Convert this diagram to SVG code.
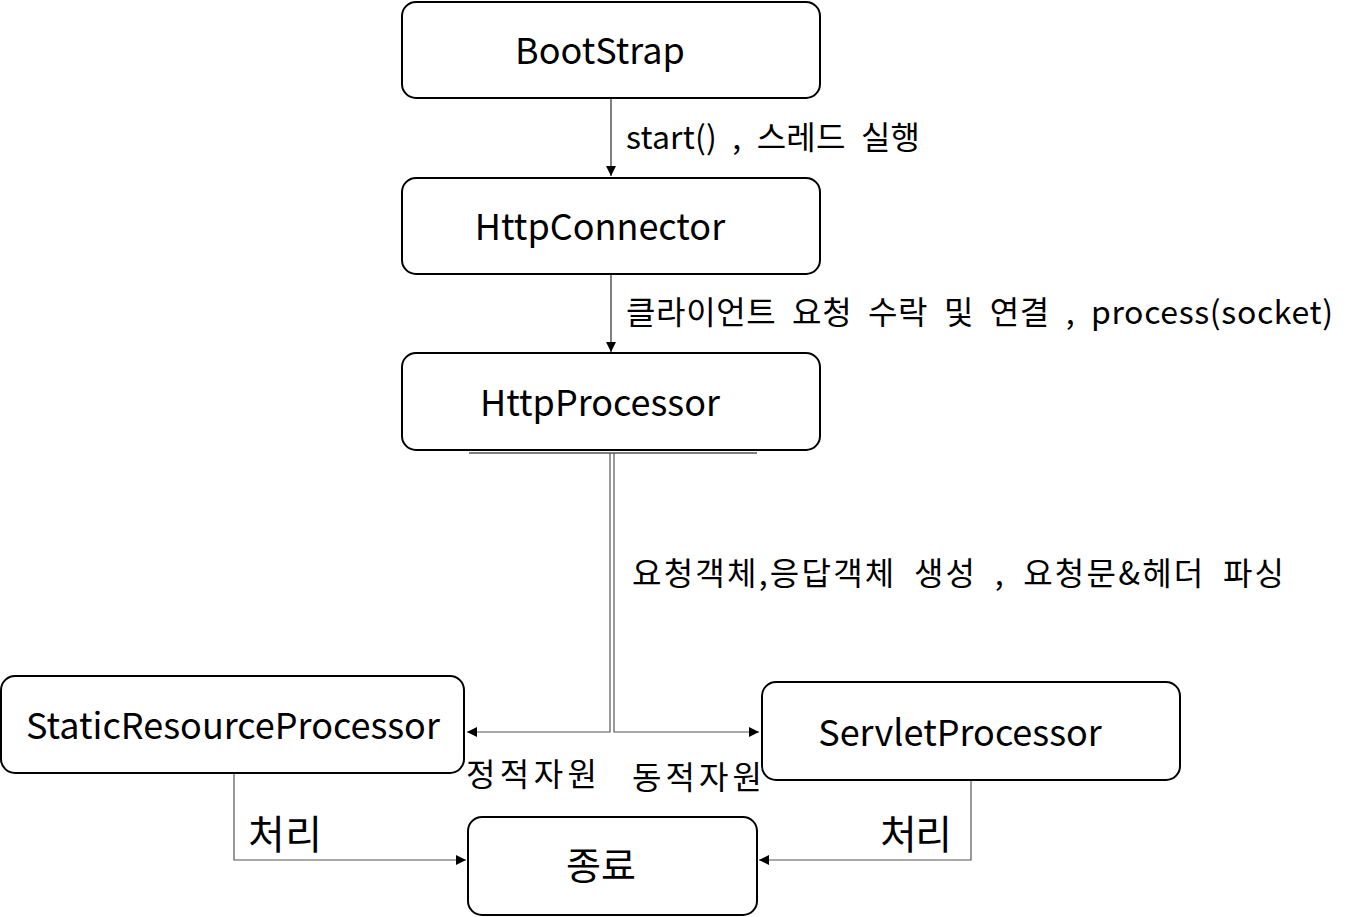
<svg xmlns="http://www.w3.org/2000/svg" width="1356" height="917" viewBox="0 0 1356 917">
<defs>
<style>
.box{fill:#fff;stroke:#000;stroke-width:2}
.t{font-family:"Noto Sans CJK KR","Noto Sans",sans-serif;font-size:36px;fill:#000;text-anchor:middle}
.l{font-family:"Noto Sans CJK KR","Noto Sans",sans-serif;font-size:32px;fill:#000;word-spacing:8px}
.k{font-size:40px}
.c{fill:none;stroke:#000;stroke-width:1}
.g{fill:none;stroke:#555;stroke-width:1.2}
</style>
<marker id="a" viewBox="0 0 10 10" refX="10" refY="5" markerWidth="10" markerHeight="10" markerUnits="userSpaceOnUse" orient="auto"><path d="M0,0L10,5L0,10z" fill="#000"/></marker>
</defs>
<rect width="1356" height="917" fill="#fff"/>
<g id="connectors">
<line class="c" x1="611" y1="98" x2="611" y2="176" marker-end="url(#a)"/>
<line class="c" x1="611" y1="274" x2="611" y2="352" marker-end="url(#a)"/>
<line class="c" x1="469" y1="453" x2="757" y2="453"/>
<path class="g" d="M610,453V732H467" marker-end="url(#a)"/>
<path class="g" d="M614,453V732H759" marker-end="url(#a)"/>
<path class="g" d="M234,773V860H466" marker-end="url(#a)"/>
<path class="g" d="M971,780V860H759" marker-end="url(#a)"/>
</g>
<g id="bootstrap"><rect class="box" x="402" y="2" width="418" height="96" rx="14"/><text class="t" x="600" y="64">BootStrap</text></g>
<g id="httpconnector"><rect class="box" x="402" y="178" width="418" height="96" rx="14"/><text class="t" x="600" y="240">HttpConnector</text></g>
<g id="httpprocessor"><rect class="box" x="402" y="353" width="418" height="97" rx="14"/><text class="t" x="600" y="416">HttpProcessor</text></g>
<g id="static"><rect class="box" x="1" y="676" width="463" height="97" rx="14"/><text class="t" x="233" y="739">StaticResourceProcessor</text></g>
<g id="servlet"><rect class="box" x="762" y="682" width="418" height="98" rx="14"/><text class="t" x="960" y="746">ServletProcessor</text></g>
<g id="end"><rect class="box" x="468" y="817" width="289" height="98" rx="14"/><text class="t" x="601" y="879" style="font-size:38px">종료</text></g>
<g id="labels">
<text class="l" x="626" y="149" textLength="294" lengthAdjust="spacing">start() , 스레드 실행</text>
<text class="l" x="626" y="324" textLength="707" lengthAdjust="spacing">클라이언트 요청 수락 및 연결 , process(socket)</text>
<text class="l" x="632" y="585" textLength="652" lengthAdjust="spacing">요청객체,응답객체 생성 , 요청문&amp;헤더 파싱</text>
<text class="l" x="466" y="786" textLength="131" lengthAdjust="spacing">정적자원</text>
<text class="l" x="632" y="789" textLength="130" lengthAdjust="spacing">동적자원</text>
<text class="l k" x="248" y="849" textLength="74" lengthAdjust="spacing">처리</text>
<text class="l k" x="880" y="849" textLength="72" lengthAdjust="spacing">처리</text>
</g>
</svg>
